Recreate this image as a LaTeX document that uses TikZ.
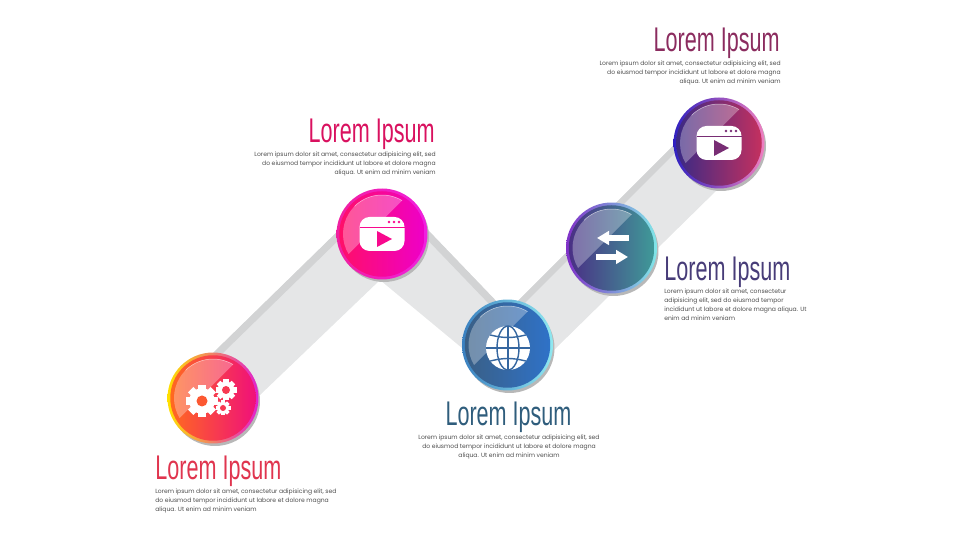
\documentclass[tikz,border=0pt]{standalone}
\usepackage{fontspec}
\usepackage{xcolor}
\usetikzlibrary{arrows.meta}
\usetikzlibrary{calc}
\setmainfont{Poppins}
\newfontfamily\titlefont[FakeStretch=0.63]{Liberation Sans}
\definecolor{bandlight}{HTML}{E5E6E7}
\definecolor{banddark}{HTML}{D2D3D4}
\definecolor{gearrimA}{HTML}{FFE000}
\definecolor{gearrimB}{HTML}{E020D0}
\definecolor{gearA}{HTML}{FF6A1F}
\definecolor{gearB}{HTML}{F0107A}
\definecolor{playrimA}{HTML}{F020A0}
\definecolor{playrimB}{HTML}{F020E0}
\definecolor{playA}{HTML}{FF0F68}
\definecolor{playB}{HTML}{EE00C8}
\definecolor{globerimA}{HTML}{3A80C0}
\definecolor{globerimB}{HTML}{90E8F0}
\definecolor{globeA}{HTML}{3A5F85}
\definecolor{globeB}{HTML}{2F72C8}
\definecolor{swaprimA}{HTML}{8030C8}
\definecolor{swaprimB}{HTML}{80E8E8}
\definecolor{swapA}{HTML}{4A2F85}
\definecolor{swapB}{HTML}{3F9A98}
\definecolor{videorimA}{HTML}{3020C0}
\definecolor{videorimB}{HTML}{F080C0}
\definecolor{videoA}{HTML}{3A2A85}
\definecolor{videoB}{HTML}{C4305F}
\definecolor{gearTitleColor}{HTML}{E0354F}
\definecolor{playTitleColor}{HTML}{D9115F}
\definecolor{globeTitleColor}{HTML}{2F5D7C}
\definecolor{swapTitleColor}{HTML}{473C78}
\definecolor{videoTitleColor}{HTML}{8B2C5F}
\colorlet{globeline}{globeA!60!globeB}
\tikzset{
    badge/.style={circle,inner sep=0pt,minimum size=1.82cm},
    face/.style={circle,inner sep=0pt,minimum size=1.71cm},
    title/.style={inner sep=0pt,text=#1,font=\titlefont\fontsize{19.5}{20}\selectfont},
    body/.style={inner sep=0pt,text=black!70,font=\fontsize{3.45}{5}\selectfont},
    meridian/.style={globeline,line width=0.8pt}
}
% one round button: shadow, rim, face and glass
\newcommand\button[6]{
    \fill[black!28] ($(#2)+(2,-3)$) circle[radius=0.9cm];
    \node[badge,left color=#3,right color=#4] (#1) at (#2) {};
    \node[face,left color=#5,right color=#6] (#1face) at (#2) {};
    \fill[white,opacity=0.3] ($(#2)+(59:0.78cm)$) arc[start angle=59,end angle=211,radius=0.78cm] -- cycle;
    \draw[white,opacity=0.6,line width=0.3pt] ($(#2)+(59:0.78cm)$) arc[start angle=59,end angle=135,radius=0.78cm];
}
% one gear with a hole
\newcommand\gear[4]{
    \foreach \a in {0,45,...,315}{
        \fill[white,rotate around={\a:(#1)}] ($(#1)+(-#2*0.24,0)$) rectangle ($(#1)+(#2*0.24,#2)$);
    }
    \fill[white] (#1) circle[radius=#2*0.016cm];
    \fill[#4] (#1) circle[radius=#3*0.02cm];
}
% window with a play mark
\newcommand\window[2]{
    \fill[white,rounded corners=2mm] ($(#1)+(-22.5,-17)$) rectangle ($(#1)+(22.5,17)$);
    \draw[#2,line width=0.5pt] ($(#1)+(-22.5,7)$) -- ($(#1)+(22.5,7)$);
    \foreach \d in {7,12,17}{
        \fill[#2] ($(#1)+(\d,12)$) circle[radius=0.8pt];
    }
    \fill[#2] ($(#1)+(-5,-13)$) -- ($(#1)+(-5,3)$) -- ($(#1)+(10,-5)$) -- cycle;
}

\begin{document}
\begin{tikzpicture}[x=0.02cm,y=0.02cm]
\useasboundingbox (0,0) rectangle (960,540);

\coordinate (gearpos) at (213,142);
\coordinate (playpos) at (382,306);
\coordinate (globepos) at (507.5,195);
\coordinate (swappos) at (611.5,292);
\coordinate (videopos) at (719,397);

%draw bands
\coordinate (a1) at (213,187);
\coordinate (a2) at (340,311);
\coordinate (a3) at (380,260);
\coordinate (a4) at (260,145);
\fill[bandlight] (a1) -- (a2) -- (a3) -- (a4) -- cycle;
\fill[banddark] (a1) -- (a2) -- (350,311) -- (223,187) -- cycle;

\coordinate (b1) at (428,310);
\coordinate (b2) at (500,235);
\coordinate (b3) at (462,192);
\coordinate (b4) at (380,260);
\fill[bandlight] (b1) -- (b2) -- (b3) -- (b4) -- (350,300) -- cycle;
\fill[banddark] (b1) -- (b2) -- (490,235) -- (418,310) -- cycle;

\coordinate (c1) at (515,236);
\coordinate (c2) at (680,401);
\coordinate (c3) at (720,353);
\coordinate (c4) at (553,189);
\fill[bandlight] (c1) -- (c2) -- (c3) -- (c4) -- cycle;
\fill[banddark] (c1) -- (c2) -- (689,401) -- (524,236) -- cycle;

%draw buttons
\button{gear}{gearpos}{gearrimA}{gearrimB}{gearA}{gearB}
\button{play}{playpos}{playrimA}{playrimB}{playA}{playB}
\button{globe}{globepos}{globerimA}{globerimB}{globeA}{globeB}
\button{swap}{swappos}{swaprimA}{swaprimB}{swapA}{swapB}
\button{video}{videopos}{videorimA}{videorimB}{videoA}{videoB}

%draw icons
\gear{202,139}{16}{5.5}{gearA!80!gearB}
\gear{226,150}{10.5}{4}{gearA!45!gearB}
\gear{223,132}{7.5}{3}{gearA!45!gearB}
\window{playpos}{playA!60!playB}
\window{videopos}{videoA!55!videoB}

\fill[white] (508,192) circle[radius=22];
\draw[meridian] (486,192) -- (530,192);
\draw[meridian] (508,214) -- (508,170);
\draw[meridian] (490.3,205) to[bend right=14] (525.7,205);
\draw[meridian] (490.3,179) to[bend left=14] (525.7,179);
\draw[meridian] (508,192) ellipse[x radius=11,y radius=22];

\coordinate (l1) at (629,302);
\coordinate (l2) at (597,302);
\coordinate (r1) at (596,283);
\coordinate (r2) at (628,283);
\draw[white,line width=0.12cm,-{Triangle[length=0.24cm,width=0.27cm]}] (l1) -- (l2);
\draw[white,line width=0.12cm,-{Triangle[length=0.24cm,width=0.27cm]}] (r1) -- (r2);

%labeling steps
\node[title=gearTitleColor,anchor=base west] (gearTitle) at (155,60) {Lorem Ipsum};
\node[body,anchor=north west,align=left] (gearText) at (155,51) {Lorem ipsum dolor sit amet, consectetur adipisicing elit, sed\\do eiusmod tempor incididunt ut labore et dolore magna\\aliqua. Ut enim ad minim veniam};

\node[title=playTitleColor,anchor=base east] (playTitle) at (435,397) {Lorem Ipsum};
\node[body,anchor=north east,align=right] (playText) at (436,388.5) {Lorem ipsum dolor sit amet, consectetur adipisicing elit, sed\\do eiusmod tempor incididunt ut labore et dolore magna\\aliqua. Ut enim ad minim veniam};

\node[title=globeTitleColor,anchor=base] (globeTitle) at (508.5,114) {Lorem Ipsum};
\node[body,anchor=north,align=center] (globeText) at (509,105) {Lorem ipsum dolor sit amet, consectetur adipisicing elit, sed\\do eiusmod tempor incididunt ut labore et dolore magna\\aliqua. Ut enim ad minim veniam};

\node[title=swapTitleColor,anchor=base west] (swapTitle) at (664,259) {Lorem Ipsum};
\node[body,anchor=north west,align=left] (swapText) at (664,251) {Lorem ipsum dolor sit amet, consectetur\\adipisicing elit, sed do eiusmod tempor\\incididunt ut labore et dolore magna aliqua. Ut\\enim ad minim veniam};

\node[title=videoTitleColor,anchor=base east] (videoTitle) at (780,488) {Lorem Ipsum};
\node[body,anchor=north east,align=right] (videoText) at (781,479) {Lorem ipsum dolor sit amet, consectetur adipisicing elit, sed\\do eiusmod tempor incididunt ut labore et dolore magna\\aliqua. Ut enim ad minim veniam};
\end{tikzpicture}
\end{document}
